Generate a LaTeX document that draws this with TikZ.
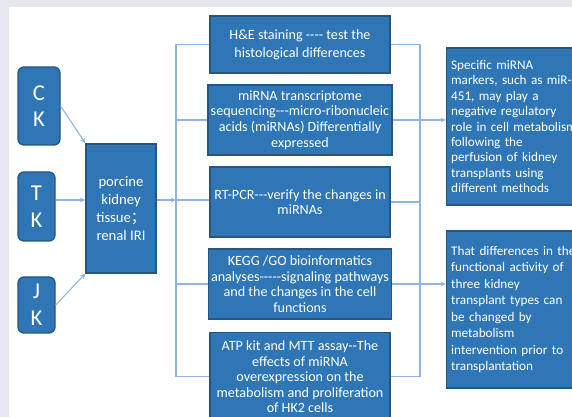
\documentclass[tikz,border=0pt]{standalone}
\usepackage{fontspec}
\setmainfont{Carlito}[Ligatures=TeXOff]
\newfontfamily\cjk{Noto Sans CJK SC}
\usetikzlibrary{arrows.meta}

\definecolor{boxfill}{HTML}{2E76B5}
\definecolor{boxline}{HTML}{26557F}
\definecolor{wire}{HTML}{8DB4E2}
\definecolor{page}{HTML}{E6E6EF}

\begin{document}
\begin{tikzpicture}[x=0.75pt,y=-0.75pt,
  box/.style={draw=boxline,fill=boxfill,line width=1pt,text=white,align=center,inner sep=2pt},
  tag/.style={box,rounded corners=4.5pt,font=\fontsize{17}{20}\selectfont},
  stepbox/.style={box,minimum width=135pt,font=\fontsize{10.6}{11.7}\selectfont},
  result/.style={box,align=left,text width=110pt,inner xsep=3pt,minimum width=117pt,minimum height=117.75pt,font=\fontsize{9.9}{11.6}\selectfont},
  link/.style={draw=wire,line width=0.8pt},
  feed/.style={link,-{Stealth[length=4pt,width=3.5pt]}},
]
\useasboundingbox (0,0) rectangle (572,417);
\fill[page] (0,0) rectangle (572,417);
\fill[white] (9,7) rectangle (572,417);
\clip (0,0) rectangle (572,417);

% groups
\node[tag,minimum width=31.5pt,minimum height=58.5pt] (ck) at (39,106) {C\\K};
\node[tag,minimum width=27.75pt,minimum height=51.75pt] (tk) at (36.5,206.5) {T\\K};
\node[tag,minimum width=27.75pt,minimum height=42pt] (jk) at (36.5,305) {J\\K};

\node[box,minimum width=52.5pt,minimum height=96.75pt,font=\fontsize{11}{13.5}\selectfont] (tissue) at (121,208.5)
  {porcine\\kidney\\tissue{\cjk ；}\\renal IRI};

% methods
\node[stepbox,minimum height=42.75pt,font=\fontsize{10.6}{13.5}\selectfont] (he) at (300,44.5)
  {H\&E staining ---- test the\\histological differences};
\node[stepbox,minimum height=52.5pt] (seq) at (300,120)
  {miRNA transcriptome\\sequencing---micro-ribonucleic\\acids (miRNAs) Differentially\\expressed};
\node[stepbox,minimum height=52.5pt] (pcr) at (300,202)
  {RT-PCR---verify the changes in\\miRNAs};
\node[stepbox,minimum height=52.5pt] (kegg) at (300,284)
  {KEGG /GO bioinformatics\\analyses-----signaling pathways\\and the changes in the cell\\functions};
\node[stepbox,anchor=north,inner ysep=6pt] (atp) at (300,332)
  {ATP kit and MTT assay--The\\effects of miRNA\\overexpression on the\\metabolism and proliferation\\of HK2 cells};

% results
\node[result] (res1) at (524.5,126.5)
  {Specific miRNA\\markers, such as miR-\\451, may play a\\negative regulatory\\role in cell metabolism\\following the\\perfusion of kidney\\transplants using\\different methods};
\node[result,font=\fontsize{9.9}{12.4}\selectfont] (res2) at (524.5,309.5)
  {That differences in the\\functional activity of\\three kidney\\transplant types can\\be changed by\\metabolism\\intervention prior to\\transplantation};

\coordinate (busl) at (176,0);
\coordinate (busr) at (420,0);
\coordinate (mid) at (0,200);

\draw[feed] (ck.east) -- (tissue.north west);
\draw[feed] (tk.east |- mid) -- (tissue.west |- mid);
\draw[feed] (jk.east) -- (tissue.south west);
\draw[feed] (tissue.east |- mid) -- (busl |- mid);

\draw[link] (he.west) -- (he.west -| busl) -- (atp.west -| busl) -- (atp.west);
\draw[link] (seq.west) -- (seq.west -| busl);
\draw[link] (busl |- mid) -- (pcr.west |- mid);
\draw[link] (kegg.west) -- (kegg.west -| busl);

\draw[link] (he.east) -- (he.east -| busr) -- (atp.east -| busr) -- (atp.east);
\draw[link] (pcr.east) -- (pcr.east -| busr);
\draw[feed] (seq.east) -- (seq.east -| res1.west);
\draw[feed] (kegg.east) -- (kegg.east -| res2.west);
\end{tikzpicture}
\end{document}
